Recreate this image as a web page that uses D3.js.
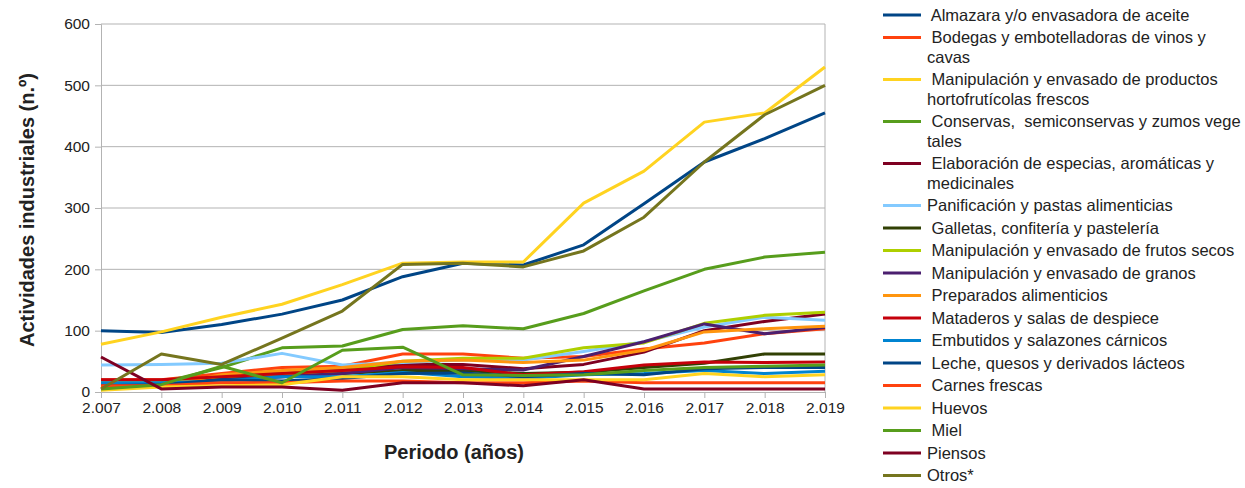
<!DOCTYPE html>
<html>
<head>
<meta charset="utf-8">
<script src="https://cdn.jsdelivr.net/npm/d3@7"></script>
<style>
  body { margin: 0; background: #fff; }
  text { font-family: "Liberation Sans", Arial, sans-serif; fill: #222; }
</style>
</head>
<body>
<div id="chart"></div>
<script>
var years = [2007, 2008, 2009, 2010, 2011, 2012, 2013, 2014, 2015, 2016, 2017, 2018, 2019];
var yearLabels = ["2.007", "2.008", "2.009", "2.010", "2.011", "2.012", "2.013", "2.014", "2.015", "2.016", "2.017", "2.018", "2.019"];
var yTicks = [0, 100, 200, 300, 400, 500, 600];

var names = [
  " Almazara y/o envasadora de aceite",
  " Bodegas y embotelladoras de vinos y\ncavas",
  " Manipulación y envasado de productos\nhortofrutícolas frescos",
  " Conservas,  semiconservas y zumos vege\ntales",
  " Elaboración de especias, aromáticas y\nmedicinales",
  "Panificación y pastas alimenticias",
  " Galletas, confitería y pastelería",
  " Manipulación y envasado de frutos secos",
  " Manipulación y envasado de granos",
  " Preparados alimenticios",
  " Mataderos y salas de despiece",
  " Embutidos y salazones cárnicos",
  " Leche, quesos y derivados lácteos",
  " Carnes frescas",
  " Huevos",
  " Miel",
  "Piensos",
  "Otros*"
];

var colors = ["#004586", "#ff420e", "#ffd320", "#579d1c", "#7e0021", "#83caff",
              "#314004", "#aecf00", "#4b1f6f", "#ff950e", "#c5000b", "#0084d1",
              "#004586", "#ff420e", "#ffd320", "#579d1c", "#7e0021", "#75751e"];

var almazara    = [100, 97, 110, 127, 150, 188, 210, 207, 240, 307, 375, 413, 455];
var bodegas     = [20, 20, 30, 40, 42, 62, 62, 55, 58, 70, 80, 95, 103];
var hortofrut   = [78, 98, 122, 143, 175, 210, 212, 212, 308, 360, 440, 455, 530];
var conservas   = [5, 15, 40, 72, 75, 102, 108, 103, 128, 165, 200, 220, 228];
var especias    = [12, 14, 25, 30, 35, 45, 45, 38, 45, 65, 100, 115, 127];
var panific     = [44, 45, 47, 63, 44, 48, 52, 52, 66, 82, 106, 122, 117];
var galletas    = [10, 10, 22, 25, 30, 35, 35, 30, 32, 40, 47, 62, 62];
var frutosSecos = [15, 15, 25, 30, 35, 50, 55, 55, 72, 80, 112, 125, 130];
var granos      = [10, 12, 20, 25, 30, 40, 38, 36, 58, 82, 111, 95, 105];
var preparados  = [8, 10, 28, 35, 40, 50, 52, 48, 52, 68, 98, 103, 107];
var mataderos   = [20, 20, 25, 30, 35, 41, 40, 28, 33, 44, 49, 48, 49];
var embutidos   = [15, 15, 18, 25, 25, 32, 25, 22, 28, 30, 35, 30, 34];
var leche       = [10, 12, 20, 18, 22, 30, 31, 25, 30, 28, 38, 40, 40];
var carnes      = [10, 10, 15, 15, 18, 18, 15, 15, 18, 15, 15, 15, 15];
var huevos      = [3, 8, 10, 12, 25, 25, 20, 20, 20, 20, 30, 25, 28];
var miel        = [5, 12, 42, 15, 68, 73, 28, 27, 28, 35, 40, 42, 44];
var piensos     = [57, 5, 8, 8, 3, 15, 15, 10, 20, 5, 5, 5, 5];
var otros       = [5, 62, 45, 88, 132, 208, 210, 204, 230, 285, 375, 452, 500];

var values = [almazara, bodegas, hortofrut, conservas, especias, panific, galletas,
              frutosSecos, granos, preparados, mataderos, embutidos, leche, carnes,
              huevos, miel, piensos, otros];

var series = names.map(function(n, i) {
  return {name: n, color: colors[i], values: values[i]};
});

var W = 1245, H = 488;

var svg = d3.select("#chart").append("svg")
    .attr("width", W).attr("height", H);

var x = d3.scaleLinear()
    .domain([2007, 2019])
    .range([101, 825]);

var y = d3.scaleLinear()
    .domain([0, 600])
    .range([392, 24]);

// grid
svg.append("g")
  .selectAll("line")
  .data(yTicks.filter(function(d) { return d > 0; }))
  .enter().append("line")
    .attr("x1", x(2007)).attr("x2", x(2019))
    .attr("y1", function(d) { return y(d); })
    .attr("y2", function(d) { return y(d); })
    .attr("stroke", "#b3b3b3").attr("stroke-width", 1);

// right border
svg.append("line")
  .attr("x1", x(2019)).attr("x2", x(2019))
  .attr("y1", y(600)).attr("y2", y(0))
  .attr("stroke", "#b3b3b3");

var yAxis = svg.append("g")
  .attr("transform", "translate(" + x(2007) + ",0)")
  .call(d3.axisLeft(y).tickValues(yTicks).tickSize(6).tickPadding(5));

var xAxis = svg.append("g")
  .attr("transform", "translate(0," + y(0) + ")")
  .call(d3.axisBottom(x).tickValues(years).tickSize(6).tickPadding(4)
        .tickFormat(function(d, i) { return yearLabels[i]; }));

[yAxis, xAxis].forEach(function(ax) {
  ax.select(".domain").attr("stroke", "#b3b3b3");
  ax.selectAll(".tick line").attr("stroke", "#b3b3b3");
  ax.selectAll(".tick text")
    .attr("font-family", "Liberation Sans, Arial, sans-serif")
    .attr("font-size", 15.5).attr("fill", "#222");
});

var line = d3.line()
  .x(function(d, i) { return x(years[i]); })
  .y(function(d) { return y(d); });

svg.append("g")
  .selectAll("path")
  .data(series)
  .enter().append("path")
    .attr("d", function(d) { return line(d.values); })
    .attr("fill", "none")
    .attr("stroke", function(d) { return d.color; })
    .attr("stroke-width", 3)
    .attr("stroke-linejoin", "round");

// axis titles
svg.append("text")
  .attr("x", 454).attr("y", 459)
  .attr("text-anchor", "middle")
  .attr("font-size", 20).attr("font-weight", "bold")
  .text("Periodo (años)");

svg.append("text")
  .attr("transform", "translate(34,210) rotate(-90)")
  .attr("text-anchor", "middle")
  .attr("font-size", 20).attr("font-weight", "bold")
  .text("Actividades industriales (n.º)");

// legend
var ly = 15;
series.forEach(function(s) {
  var lines = s.name.split("\n");
  var g = svg.append("g");
  g.append("line")
    .attr("x1", 883).attr("x2", 921)
    .attr("y1", ly).attr("y2", ly)
    .attr("stroke", s.color).attr("stroke-width", 3);
  lines.forEach(function(t, j) {
    g.append("text")
      .attr("x", 927).attr("y", ly + 5.5 + j * 19.5)
      .attr("font-size", 16.5)
      .style("white-space", "pre")
      .text(t);
  });
  ly += 22.5 + (lines.length - 1) * 19.5;
});
</script>
</body>
</html>
